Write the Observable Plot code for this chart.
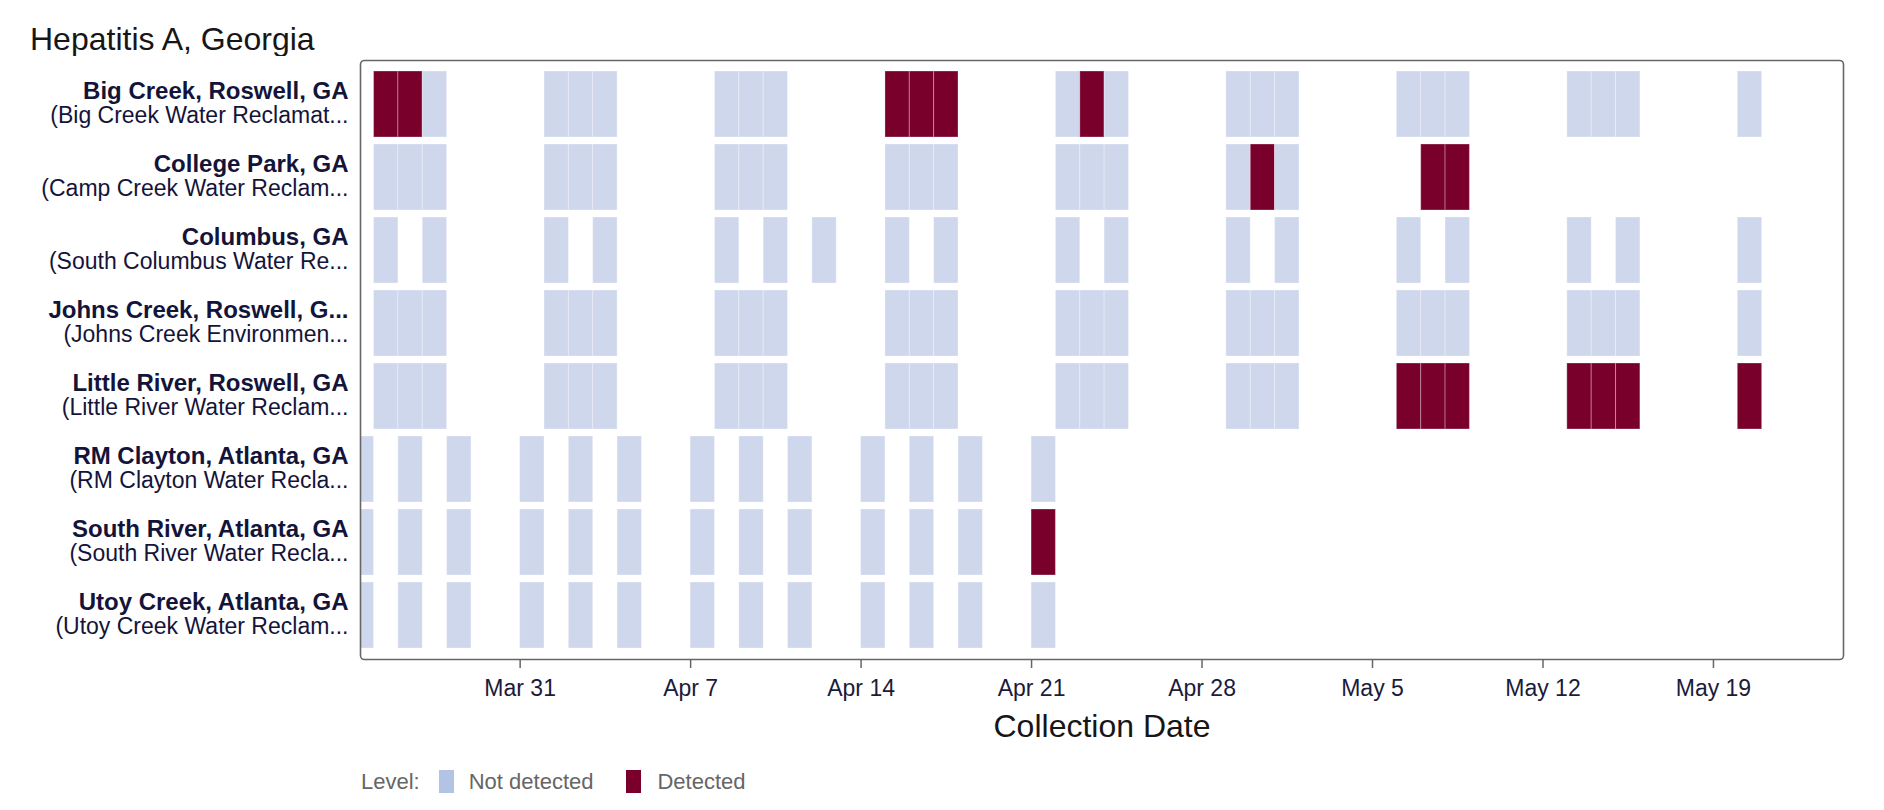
<!DOCTYPE html>
<html><head><meta charset="utf-8">
<script src="https://cdn.jsdelivr.net/npm/d3@7"></script>
<script src="https://cdn.jsdelivr.net/npm/@observablehq/plot@0.6"></script>
<style>
html,body{margin:0;padding:0;background:#fff;}
body{width:1884px;height:810px;position:relative;overflow:hidden;font-family:"Liberation Sans",Arial,Helvetica,sans-serif;}
#title{position:absolute;left:30px;top:23px;font-size:32px;line-height:1;color:#161616;white-space:nowrap;}
#chart{position:absolute;left:0;top:56px;}
#legend{position:absolute;left:361px;top:770px;height:23px;display:flex;align-items:center;font-size:22px;color:#666;white-space:nowrap;}
.sw{width:15px;height:23px;display:inline-block;}
</style></head><body>
<div id="title">Hepatitis A, Georgia</div>
<div id="chart"></div>
<div id="legend"></div>
<script>
const sites = ["Big Creek, Roswell, GA","College Park, GA","Columbus, GA","Johns Creek, Roswell, G...","Little River, Roswell, GA","RM Clayton, Atlanta, GA","South River, Atlanta, GA","Utoy Creek, Atlanta, GA"];
const facilities = ["(Big Creek Water Reclamat...","(Camp Creek Water Reclam...","(South Columbus Water Re...","(Johns Creek Environmen...","(Little River Water Reclam...","(RM Clayton Water Recla...","(South River Water Recla...","(Utoy Creek Water Reclam..."];
const levels = ["Not detected","Detected"];
const tickDates = ["2024-03-31","2024-04-07","2024-04-14","2024-04-21","2024-04-28","2024-05-05","2024-05-12","2024-05-19"];

const datesBigCreek = ["2024-03-25","2024-03-26","2024-03-27","2024-04-01","2024-04-02","2024-04-03","2024-04-08","2024-04-09","2024-04-10","2024-04-15","2024-04-16","2024-04-17","2024-04-22","2024-04-23","2024-04-24","2024-04-29","2024-04-30","2024-05-01","2024-05-06","2024-05-07","2024-05-08","2024-05-13","2024-05-14","2024-05-15","2024-05-20"];
const detectedBigCreek = ["2024-03-25","2024-03-26","2024-04-15","2024-04-16","2024-04-17","2024-04-23"];
const datesCollegePark = ["2024-03-25","2024-03-26","2024-03-27","2024-04-01","2024-04-02","2024-04-03","2024-04-08","2024-04-09","2024-04-10","2024-04-15","2024-04-16","2024-04-17","2024-04-22","2024-04-23","2024-04-24","2024-04-29","2024-04-30","2024-05-01","2024-05-07","2024-05-08"];
const detectedCollegePark = ["2024-04-30","2024-05-07","2024-05-08"];
const datesColumbus = ["2024-03-25","2024-03-27","2024-04-01","2024-04-03","2024-04-08","2024-04-10","2024-04-12","2024-04-15","2024-04-17","2024-04-22","2024-04-24","2024-04-29","2024-05-01","2024-05-06","2024-05-08","2024-05-13","2024-05-15","2024-05-20"];
const detectedColumbus = [];
const datesJohnsCreek = ["2024-03-25","2024-03-26","2024-03-27","2024-04-01","2024-04-02","2024-04-03","2024-04-08","2024-04-09","2024-04-10","2024-04-15","2024-04-16","2024-04-17","2024-04-22","2024-04-23","2024-04-24","2024-04-29","2024-04-30","2024-05-01","2024-05-06","2024-05-07","2024-05-08","2024-05-13","2024-05-14","2024-05-15","2024-05-20"];
const detectedJohnsCreek = [];
const datesLittleRiver = ["2024-03-25","2024-03-26","2024-03-27","2024-04-01","2024-04-02","2024-04-03","2024-04-08","2024-04-09","2024-04-10","2024-04-15","2024-04-16","2024-04-17","2024-04-22","2024-04-23","2024-04-24","2024-04-29","2024-04-30","2024-05-01","2024-05-06","2024-05-07","2024-05-08","2024-05-13","2024-05-14","2024-05-15","2024-05-20"];
const detectedLittleRiver = ["2024-05-06","2024-05-07","2024-05-08","2024-05-13","2024-05-14","2024-05-15","2024-05-20"];
const datesRMClayton = ["2024-03-24","2024-03-26","2024-03-28","2024-03-31","2024-04-02","2024-04-04","2024-04-07","2024-04-09","2024-04-11","2024-04-14","2024-04-16","2024-04-18","2024-04-21"];
const detectedRMClayton = [];
const datesSouthRiver = ["2024-03-24","2024-03-26","2024-03-28","2024-03-31","2024-04-02","2024-04-04","2024-04-07","2024-04-09","2024-04-11","2024-04-14","2024-04-16","2024-04-18","2024-04-21"];
const detectedSouthRiver = ["2024-04-21"];
const datesUtoyCreek = ["2024-03-24","2024-03-26","2024-03-28","2024-03-31","2024-04-02","2024-04-04","2024-04-07","2024-04-09","2024-04-11","2024-04-14","2024-04-16","2024-04-18","2024-04-21"];
const detectedUtoyCreek = [];

// styling
const cellColors = ["#CFD7EC","#7A002C"];
const legendColors = ["#B3C3E3","#7A002C"];
const font = "Liberation Sans, Arial, Helvetica, sans-serif";

const siteDates = [datesBigCreek,datesCollegePark,datesColumbus,datesJohnsCreek,datesLittleRiver,datesRMClayton,datesSouthRiver,datesUtoyCreek];
const siteDetected = [detectedBigCreek,detectedCollegePark,detectedColumbus,detectedJohnsCreek,detectedLittleRiver,detectedRMClayton,detectedSouthRiver,detectedUtoyCreek];

const samples = sites.flatMap((s, i) => siteDates[i].map(d => ({
  site: s,
  date: new Date(d),
  level: siteDetected[i].includes(d) ? levels[1] : levels[0]
})));
const labelRows = sites.map((s, i) => ({site: s, facility: facilities[i]}));

const chart = Plot.plot({
  width: 1884,
  height: 695,
  marginTop: 4,
  marginBottom: 92,
  marginLeft: 360,
  marginRight: 41,
  style: {fontFamily: font, fontSize: "23px", background: "white", overflow: "visible"},
  x: {type: "utc", domain: [new Date("2024-03-24T10:40Z"), new Date("2024-05-24T08:10Z")]},
  y: {domain: sites, padding: 0.1, axis: null},
  color: {domain: levels, range: cellColors},
  marks: [
    Plot.barX(samples, {
      x1: "date",
      x2: d => d3.utcDay.offset(d.date, 1),
      y: "site",
      fill: "level",
      stroke: "white",
      strokeOpacity: 0.3,
      strokeWidth: 1,
      clip: true
    }),
    Plot.frame({stroke: "#666", strokeWidth: 1.6, rx: 4}),
    Plot.axisX({
      ticks: tickDates.map(d => new Date(d)),
      tickFormat: d3.utcFormat("%b %-d"),
      tickSize: 9,
      tickPadding: 11.5,
      fontSize: 23,
      stroke: "#666",
      strokeWidth: 1.5,
      fill: "#1b1b3b",
      label: null
    }),
    Plot.text(labelRows, {y: "site", text: "site", frameAnchor: "left", textAnchor: "end", dx: -12, dy: -13, fontWeight: "bold", fontSize: 24, fill: "#14143a"}),
    Plot.text(labelRows, {y: "site", text: "facility", frameAnchor: "left", textAnchor: "end", dx: -12, dy: 11.5, fontSize: 23, fill: "#14143a"}),
    Plot.text(["Collection Date"], {frameAnchor: "bottom", dy: 77, fontSize: 32, fill: "#161616"})
  ]
});
document.getElementById("chart").appendChild(chart);

const legend = document.getElementById("legend");
const lab = document.createElement("span");
lab.textContent = "Level:";
legend.appendChild(lab);
levels.forEach((lv, i) => {
  const sw = document.createElement("span");
  sw.className = "sw";
  sw.style.background = legendColors[i];
  sw.style.marginLeft = i === 0 ? "19px" : "33px";
  legend.appendChild(sw);
  const t = document.createElement("span");
  t.textContent = lv;
  t.style.marginLeft = i === 0 ? "15px" : "16px";
  legend.appendChild(t);
});
</script>
</body></html>
